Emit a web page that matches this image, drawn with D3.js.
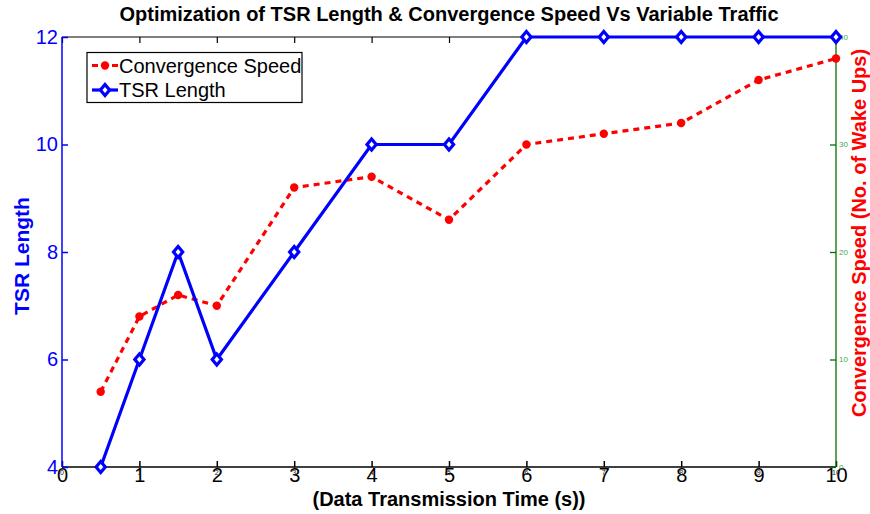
<!DOCTYPE html>
<html><head><meta charset="utf-8">
<script src="https://cdn.jsdelivr.net/npm/d3@7"></script>
<style>
html,body{margin:0;padding:0;background:#fff;}
svg{display:block;font-family:"Liberation Sans",Arial,Helvetica,sans-serif;}
</style></head>
<body>
<svg id="chart" width="870" height="514"></svg>
<script>
const xValues = [0.5, 1, 1.5, 2, 3, 4, 5, 6, 7, 8, 9, 10];
const tsrLength = [4, 6, 8, 6, 8, 10, 10, 12, 12, 12, 12, 12];
const convSpeed = [7, 14, 16, 15, 26, 27, 23, 30, 31, 32, 36, 38];
const xTicks = [0, 1, 2, 3, 4, 5, 6, 7, 8, 9, 10];
const leftTicks = [4, 6, 8, 10, 12];
const rightTicks = [0, 10, 20, 30, 40];
const titleText = "Optimization of TSR Length & Convergence Speed Vs Variable Traffic";
const xLabel = "(Data Transmission Time (s))";
const leftLabel = "TSR Length";
const rightLabel = "Convergence Speed (No. of Wake Ups)";
const seriesNames = ["Convergence Speed", "TSR Length"];

const svg = d3.select("#chart");
const L = 62, R = 836, T = 37, B = 467;
const x = d3.scaleLinear().domain([0, 10]).range([L, R]);
const yL = d3.scaleLinear().domain([4, 12]).range([B, T]);
const yR = d3.scaleLinear().domain([0, 40]).range([B, T]);
const FF = "Liberation Sans, Arial, sans-serif";

// top axis (box)
const topAx = svg.append("g").attr("transform", `translate(0,${T})`)
  .call(d3.axisTop(x).tickValues(xTicks).tickSize(-6).tickFormat(""));
topAx.selectAll("path,line").attr("stroke", "#000").attr("stroke-width", 1.2);
topAx.select(".domain").attr("d", `M${L},0H${R}`);

// bottom axis large labels
const botAx = svg.append("g").attr("transform", `translate(0,${B})`)
  .call(d3.axisBottom(x).tickValues(xTicks).tickSize(-6).tickPadding(10));
botAx.selectAll("path,line").attr("stroke", "#000").attr("stroke-width", 1.5);
botAx.select(".domain").attr("d", `M${L},0H${R}`);
botAx.selectAll("text").attr("font-size", 20).attr("fill", "#000")
  .attr("font-family", FF).attr("y", 1).attr("dy", "0.71em");

// bottom tiny labels (second axes overlay)
svg.append("g").selectAll("text").data(xTicks).join("text")
  .attr("x", d => x(d)).attr("y", B + 8).attr("text-anchor", "middle")
  .attr("font-size", 7).attr("fill", "#222").text(d => d);

// left axis
const leftAx = svg.append("g").attr("transform", `translate(${L},0)`)
  .call(d3.axisLeft(yL).tickValues(leftTicks).tickSize(-6).tickPadding(4));
leftAx.selectAll("path,line").attr("stroke", "#0000ff").attr("stroke-width", 1.5);
leftAx.select(".domain").attr("d", `M0,${B}V${T}`);
leftAx.selectAll("text").attr("font-size", 20).attr("fill", "#0000ff")
  .attr("font-family", FF).attr("x", -4);

// right axis
const rightAx = svg.append("g").attr("transform", `translate(${R},0)`)
  .call(d3.axisRight(yR).tickValues(rightTicks).tickSize(-6).tickFormat(""));
rightAx.selectAll("path,line").attr("stroke", "#007000").attr("stroke-width", 1.3);
rightAx.select(".domain").attr("d", `M0,${B}V${T}`);
svg.append("g").selectAll("text").data(rightTicks).join("text")
  .attr("x", R + 3).attr("y", d => yR(d)).attr("dy", "0.35em")
  .attr("font-size", 8).attr("fill", "#3faa3f").text(d => d);

// title
svg.append("text").attr("x", 449).attr("y", 21).attr("text-anchor", "middle")
  .attr("font-size", 20).attr("font-weight", "bold").attr("fill", "#000").text(titleText);

// x label
svg.append("text").attr("x", 449).attr("y", 506).attr("text-anchor", "middle")
  .attr("font-size", 20).attr("font-weight", "bold").attr("fill", "#000").text(xLabel);

// left label
svg.append("text").attr("transform", `translate(28.5,256) rotate(-90)`).attr("text-anchor", "middle")
  .attr("font-size", 21).attr("font-weight", "bold").attr("fill", "#0000ff").text(leftLabel);

// right label
svg.append("text").attr("transform", `translate(866,233) rotate(-90)`).attr("text-anchor", "middle")
  .attr("font-size", 20).attr("font-weight", "bold").attr("fill", "#ff0000").text(rightLabel);

const idx = d3.range(xValues.length);

// red dashed series
svg.append("path").datum(idx)
  .attr("d", d3.line().x(i => x(xValues[i])).y(i => yR(convSpeed[i])))
  .attr("fill", "none").attr("stroke", "#ff0000").attr("stroke-width", 3.2)
  .attr("stroke-dasharray", "6,5");
svg.append("g").selectAll("circle").data(idx).join("circle")
  .attr("cx", i => x(xValues[i])).attr("cy", i => yR(convSpeed[i])).attr("r", 4.2)
  .attr("fill", "#ff0000");

// blue solid series
svg.append("path").datum(idx)
  .attr("d", d3.line().x(i => x(xValues[i])).y(i => yL(tsrLength[i])))
  .attr("fill", "none").attr("stroke", "#0000ff").attr("stroke-width", 3.2);
const diamond = "M0,-5.5L4.6,0L0,5.5L-4.6,0Z";
svg.append("g").selectAll("path").data(idx).join("path")
  .attr("transform", i => `translate(${x(xValues[i])},${yL(tsrLength[i])})`)
  .attr("d", diamond).attr("fill", "#fff").attr("stroke", "#0000ff").attr("stroke-width", 3.2);

// legend
const lg = svg.append("g");
lg.append("rect").attr("x", 87).attr("y", 52.5).attr("width", 215).attr("height", 50)
  .attr("fill", "#fff").attr("stroke", "#000").attr("stroke-width", 1.2);
const ly = [65.5, 90];
lg.append("line").attr("x1", 92).attr("x2", 118).attr("y1", ly[0]).attr("y2", ly[0])
  .attr("stroke", "#ff0000").attr("stroke-width", 3.2).attr("stroke-dasharray", "6,4");
lg.append("circle").attr("cx", 105).attr("cy", ly[0]).attr("r", 4.2).attr("fill", "#ff0000");
lg.append("line").attr("x1", 92).attr("x2", 118).attr("y1", ly[1]).attr("y2", ly[1])
  .attr("stroke", "#0000ff").attr("stroke-width", 3.2);
lg.append("path").attr("transform", `translate(105,${ly[1]})`).attr("d", diamond)
  .attr("fill", "#fff").attr("stroke", "#0000ff").attr("stroke-width", 3.2);
lg.selectAll("text.lt").data(seriesNames).join("text").attr("class", "lt")
  .attr("x", 119).attr("y", (d, i) => ly[i]).attr("dy", "0.35em")
  .attr("font-size", 20).attr("fill", "#000").text(d => d);
</script>
</body></html>
